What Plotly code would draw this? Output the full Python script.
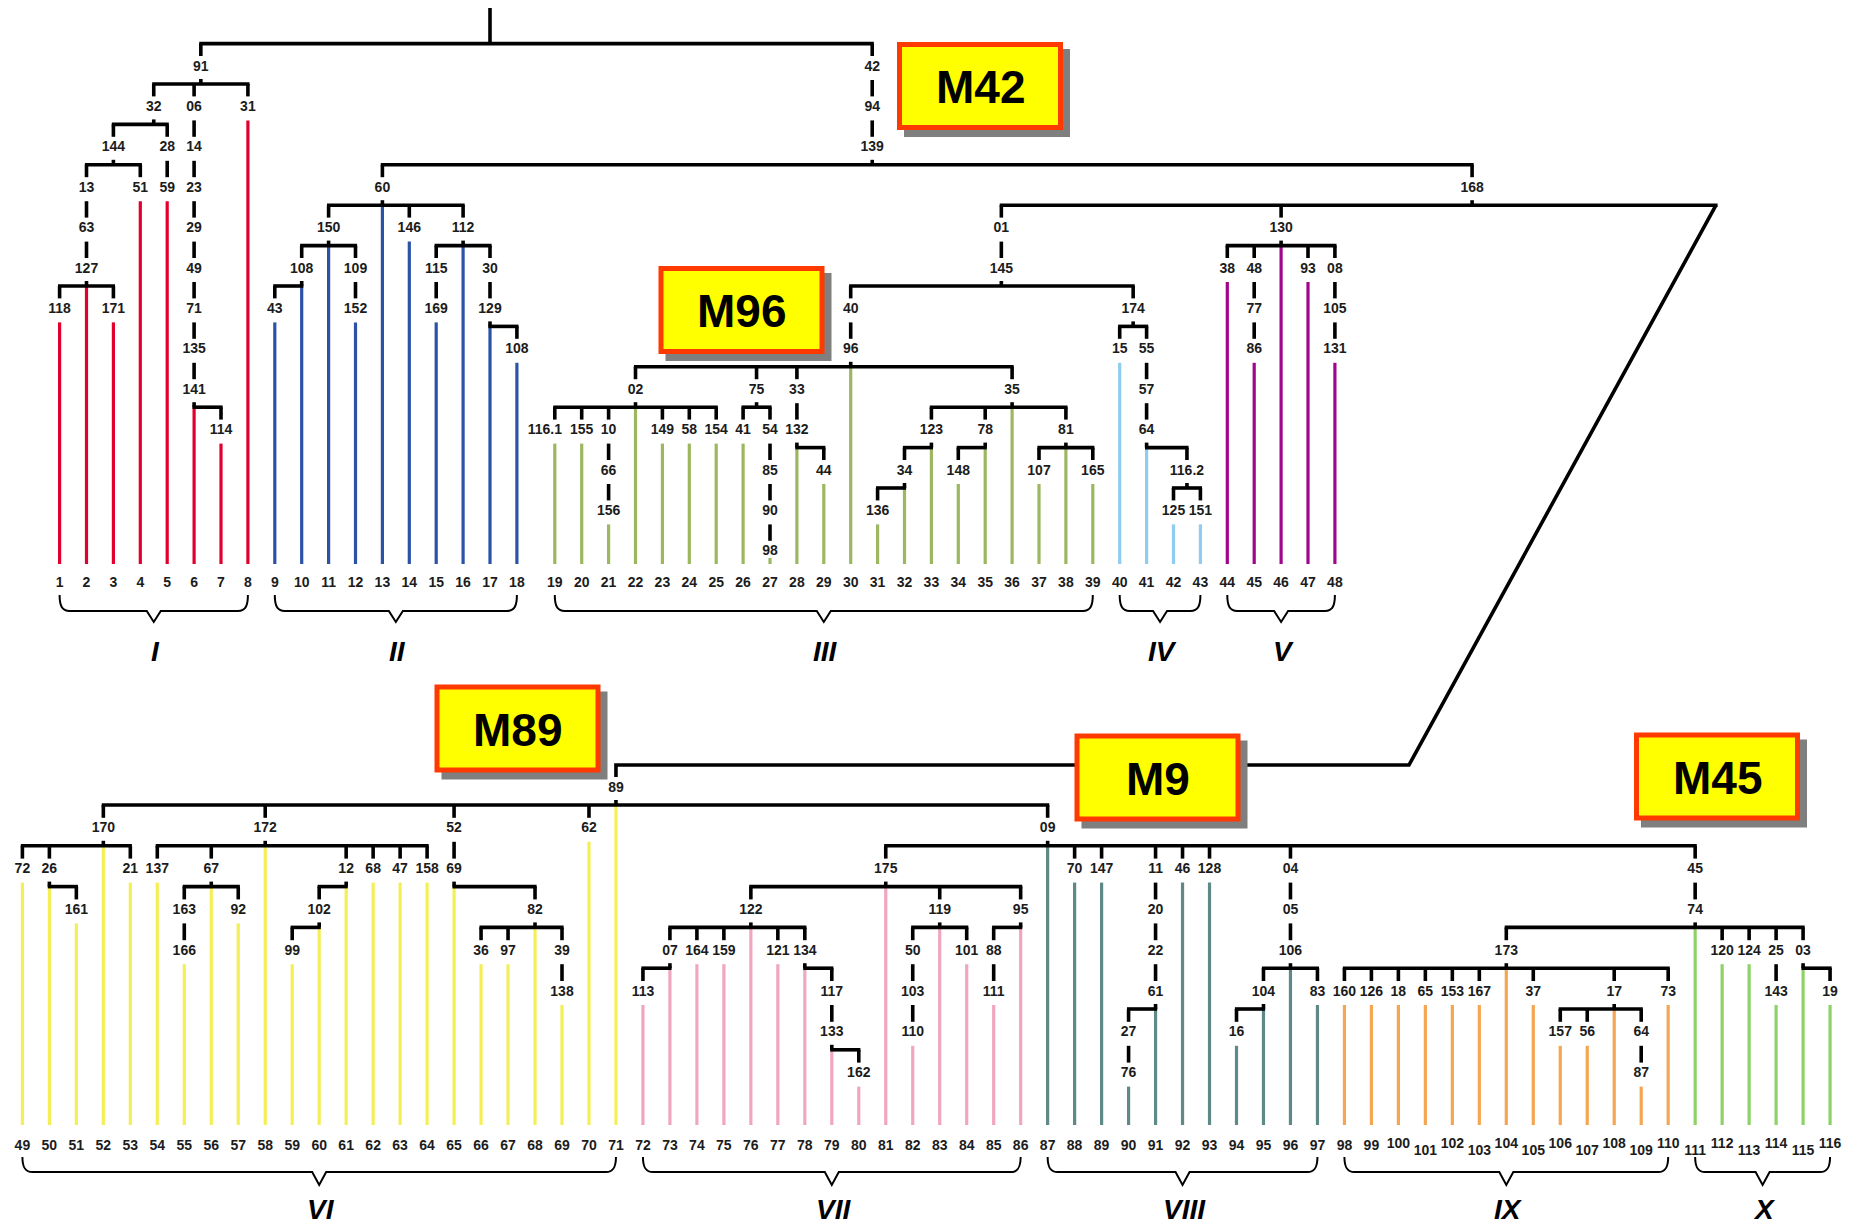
import plotly.graph_objects as go

# ---------------------------------------------------------------------------
# Tree data: internal nodes are (label, children); leaves are sample numbers.
# A node whose children include a bare leaf number is drawn through that leaf.
# ---------------------------------------------------------------------------
BOTTOM_TREE = ("89", [
    ("170", [("72", [49]), ("26", [50, ("161", [51])]), 52, ("21", [53])]),
    ("172", [("137", [54]),
             ("67", [("163", [("166", [55])]), 56, ("92", [57])]),
             58,
             ("12", [("102", [("99", [59]), 60]), 61]),
             ("68", [62]), ("47", [63]), ("158", [64])]),
    ("52", [("69", [65, ("82", [("36", [66]), ("97", [67]), 68,
                                ("39", [("138", [69])])])])]),
    ("62", [70]),
    71,
    ("09", [
        ("175", [
            ("122", [("07", [("113", [72]), 73]), ("164", [74]), ("159", [75]), 76,
                     ("121", [77]),
                     ("134", [78, ("117", [("133", [79, ("162", [80])])])])]),
            81,
            ("119", [("50", [("103", [("110", [82])])]), 83, ("101", [84])]),
            ("95", [("88", [("111", [85])]), 86]),
        ]),
        87,
        ("70", [88]),
        ("147", [89]),
        ("11", [("20", [("22", [("61", [("27", [("76", [90])]), 91])])])]),
        ("46", [92]),
        ("128", [93]),
        ("04", [("05", [("106", [("104", [("16", [94]), 95]), 96, ("83", [97])])])]),
        ("45", [("74", [
            ("173", [("160", [98]), ("126", [99]), ("18", [100]), ("65", [101]),
                     ("153", [102]), ("167", [103]), 104, ("37", [105]),
                     ("17", [("157", [106]), ("56", [107]), 108, ("64", [("87", [109])])]),
                     ("73", [110])]),
            111,
            ("120", [112]),
            ("124", [113]),
            ("25", [("143", [114])]),
            ("03", [115, ("19", [116])]),
        ])]),
    ]),
])

TOP_TREE = (None, [
    ("91", [
        ("32", [
            ("144", [
                ("13", [("63", [("127", [("118", [1]), 2, ("171", [3])])])]),
                ("51", [4]),
            ]),
            ("28", [("59", [5])]),
        ]),
        ("06", [("14", [("23", [("29", [("49", [("71", [("135", [
            ("141", [6, ("114", [7])])])])])])])])]),
        ("31", [8]),
    ]),
    ("42", [("94", [("139", [
        ("60", [
            ("150", [("108", [("43", [9]), 10]), 11, ("109", [("152", [12])])]),
            13,
            ("146", [14]),
            ("112", [("115", [("169", [15])]), 16, ("30", [("129", [17, ("108", [18])])])]),
        ]),
        ("168", [
            ("01", [("145", [
                ("40", [("96", [
                    ("02", [("116.1", [19]), ("155", [20]), ("10", [("66", [("156", [21])])]),
                            22, ("149", [23]), ("58", [24]), ("154", [25])]),
                    ("75", [("41", [26]), ("54", [("85", [("90", [("98", [27])])])])]),
                    ("33", [("132", [28, ("44", [29])])]),
                    30,
                    ("35", [
                        ("123", [("34", [("136", [31]), 32]), 33]),
                        ("78", [("148", [34]), 35]),
                        36,
                        ("81", [("107", [37]), 38, ("165", [39])]),
                    ]),
                ])]),
                ("174", [("15", [40]),
                         ("55", [("57", [("64", [41, ("116.2", [("125", [42]), ("151", [43])])])])])]),
            ])]),
            ("130", [("38", [44]), ("48", [("77", [("86", [45])])]), 46, ("93", [47]),
                     ("08", [("105", [("131", [48])])])]),
            BOTTOM_TREE,
        ]),
    ])])]),
])

CLADE_NAMES = ["I", "II", "III", "IV", "V", "VI", "VII", "VIII", "IX", "X"]
CLADE_FIRST = [1, 9, 19, 40, 44, 49, 72, 87, 98, 111]
CLADE_LAST = [8, 18, 39, 43, 48, 71, 86, 97, 110, 116]
MARKER_NAMES = ["M42", "M96", "M89", "M9", "M45"]

# ---------------------------------------------------------------------------
# Styling and layout
# ---------------------------------------------------------------------------
CLADE_COLORS = ["#e1002d", "#2b52a6", "#9cb760", "#8fcdf0", "#a0058c",
                "#f4ef55", "#f1a6c0", "#5e8986", "#f5a652", "#8dd266"]

W, H = 1860, 1228
ROWS = {
    "top": dict(first=1, x0=59.6, dx=26.9, gap_after=18, gap=11,
                y0=67, dy=40.4, leaf_end=564, leaf_label=583,
                brace_top=595, brace_mid=611, brace_tip=622, roman=651),
    "bottom": dict(first=49, x0=22.4, dx=26.98, gap_after=None, gap=0,
                   y0=788, dy=40.8, leaf_end=1125, leaf_label=1146,
                   brace_top=1157, brace_mid=1172, brace_tip=1185, roman=1209),
}
# nodes whose label is not centred by the default rule: anchor in leaf slots
NODE_ANCHOR = {"root": 17, "32": 4.5, "139": 30.8, "168": 53.1, "145": 35.6}
# small horizontal label offsets where neighbouring labels crowd
LABEL_NUDGE = {"116.1": -10}
ROOT_TOP = 8
LINK_JUMP_X, LINK_CORNER_X, LINK_Y = 1716, 1409, 765
BOX_CENTER = {"M42": (980, 86), "M96": (741.5, 310), "M89": (517.5, 728.5),
              "M9": (1157.5, 777.5), "M45": (1717, 776.5)}
BOX_W, BOX_H = 166, 88
FONT = "Arial, 'Liberation Sans', sans-serif"
LABEL_FONT = dict(family=FONT, size=14, color="#1c1c1c", weight="bold")
TREE_W, LEAF_W = 3.6, 3.2


def leaf_x(n, row):
    r = ROWS[row]
    x = r["x0"] + r["dx"] * (n - r["first"])
    if r["gap_after"] is not None and n > r["gap_after"]:
        x += r["gap"]
    return x


def level_y(k, row):
    return ROWS[row]["y0"] + ROWS[row]["dy"] * k


def clade_of(n):
    for i, (a, b) in enumerate(zip(CLADE_FIRST, CLADE_LAST)):
        if a <= n <= b:
            return i
    return 0


def node_x(node, row):
    if isinstance(node, int):
        return leaf_x(node, row)
    label, kids = node
    key = "root" if label is None else label
    if key in NODE_ANCHOR:
        return leaf_x(NODE_ANCHOR[key], row)
    if len(kids) == 1:
        return node_x(kids[0], row)
    for c in kids:
        if isinstance(c, int):
            return leaf_x(c, row)
    return (node_x(kids[0], row) + node_x(kids[-1], row)) / 2


black_x, black_y = [], []
leaf_seg = {i: ([], []) for i in range(len(CLADE_NAMES))}
lab_x, lab_y, lab_t = [], [], []


def black(x0, y0, x1, y1):
    black_x.extend([x0, x1, None])
    black_y.extend([y0, y1, None])


def colored(n, x, y0, row):
    end = ROWS[row]["leaf_end"]
    y0 = min(y0, end - 6)
    xs, ys = leaf_seg[clade_of(n)]
    xs.extend([x, x, None])
    ys.extend([y0, end, None])


def draw(node, k, row):
    label, kids = node
    x = node_x(node, row)
    y = level_y(k, row)
    if label is not None:
        lab_x.append(x + LABEL_NUDGE.get(label, 0))
        lab_y.append(y)
        lab_t.append(label)
    if len(kids) == 1:
        c = kids[0]
        if isinstance(c, int):
            colored(c, x, y + 13, row)
        else:
            black(x, y + 13, x, level_y(k + 1, row) - 11)
            draw(c, k + 1, row)
        return
    bar_y = y + 17
    xs = []
    for c in kids:
        if c is BOTTOM_TREE:
            xs.append(LINK_JUMP_X)
        else:
            xs.append(node_x(c, row))
    black(min(xs) - 1.6, bar_y, max(xs) + 1.6, bar_y)
    if label is None:
        black(x, ROOT_TOP, x, bar_y)
    else:
        black(x, bar_y - 5, x, bar_y)
    for c, cx in zip(kids, xs):
        if isinstance(c, int):
            colored(c, cx, bar_y, row)
        elif c is BOTTOM_TREE:
            bx = node_x(c, "bottom")
            black_x.extend([LINK_JUMP_X, LINK_CORNER_X, bx, bx, None])
            black_y.extend([bar_y, LINK_Y, LINK_Y, level_y(0, "bottom") - 11, None])
            draw(c, 0, "bottom")
        else:
            black(cx, bar_y, cx, level_y(k + 1, row) - 11)
            draw(c, k + 1, row)


draw(TOP_TREE, -1, "top")

fig = go.Figure()

for i, name in enumerate(CLADE_NAMES):
    xs, ys = leaf_seg[i]
    fig.add_trace(go.Scatter(x=xs, y=ys, mode="lines", name=name,
                             line=dict(color=CLADE_COLORS[i], width=LEAF_W),
                             hoverinfo="skip"))

fig.add_trace(go.Scatter(x=black_x, y=black_y, mode="lines",
                         line=dict(color="#000000", width=TREE_W),
                         hoverinfo="skip"))

fig.add_trace(go.Scatter(x=lab_x, y=lab_y, text=lab_t, mode="text",
                         textposition="middle center", textfont=LABEL_FONT,
                         hoverinfo="skip"))

# sample numbers along the base of each row
leaf_lx, leaf_ly, leaf_lt = [], [], []
for n in range(CLADE_FIRST[0], CLADE_LAST[-1] + 1):
    row = "top" if n <= CLADE_LAST[4] else "bottom"
    y = ROWS[row]["leaf_label"]
    if n >= 100:
        y += 5 if n % 2 else -2
    leaf_lx.append(leaf_x(n, row))
    leaf_ly.append(y)
    leaf_lt.append(str(n))
fig.add_trace(go.Scatter(x=leaf_lx, y=leaf_ly, text=leaf_lt, mode="text",
                         textposition="middle center", textfont=LABEL_FONT,
                         hoverinfo="skip"))

shapes, annotations = [], []

# clade braces and numerals
for i, name in enumerate(CLADE_NAMES):
    row = "top" if CLADE_LAST[i] <= CLADE_LAST[4] else "bottom"
    r = ROWS[row]
    x1, x2 = leaf_x(CLADE_FIRST[i], row), leaf_x(CLADE_LAST[i], row)
    xc = (x1 + x2) / 2
    t, m, p = r["brace_top"], r["brace_mid"], r["brace_tip"]
    path = (f"M {x1},{t} C {x1},{m - 6} {x1 + 2},{m} {x1 + 10},{m} "
            f"L {xc - 7},{m} L {xc},{p} L {xc + 7},{m} "
            f"L {x2 - 10},{m} C {x2 - 2},{m} {x2},{m - 6} {x2},{t}")
    shapes.append(dict(type="path", path=path, xref="x", yref="y",
                       line=dict(color="#000000", width=2), layer="above"))
    annotations.append(dict(x=xc + 2, y=r["roman"], xref="x", yref="y",
                            text=f"<b><i>{name}</i></b>", showarrow=False,
                            font=dict(family=FONT, size=28, color="#000000")))

# marker boxes
for name in MARKER_NAMES:
    cx, cy = BOX_CENTER[name]
    x0, x1 = cx - BOX_W / 2, cx + BOX_W / 2
    y0, y1 = cy - BOX_H / 2, cy + BOX_H / 2
    shapes.append(dict(type="rect", xref="x", yref="y", x0=x0 + 7, x1=x1 + 7,
                       y0=y0 + 7, y1=y1 + 7, fillcolor="#7f7f7f",
                       line=dict(width=0), layer="above"))
    shapes.append(dict(type="rect", xref="x", yref="y", x0=x0 + 2.5, x1=x1 - 2.5,
                       y0=y0 + 2.5, y1=y1 - 2.5, fillcolor="#ffff00",
                       line=dict(color="#ff3a00", width=5), layer="above"))
    annotations.append(dict(x=cx, y=cy + 1, xref="x", yref="y",
                            text=f"<b>{name}</b>", showarrow=False,
                            font=dict(family=FONT, size=46, color="#000000")))

fig.update_layout(
    width=W, height=H, margin=dict(l=0, r=0, t=0, b=0),
    paper_bgcolor="#ffffff", plot_bgcolor="#ffffff",
    showlegend=False, shapes=shapes, annotations=annotations,
    xaxis=dict(range=[0, W], visible=False, fixedrange=True),
    yaxis=dict(range=[H, 0], visible=False, fixedrange=True),
)

fig.write_html("out.html")
